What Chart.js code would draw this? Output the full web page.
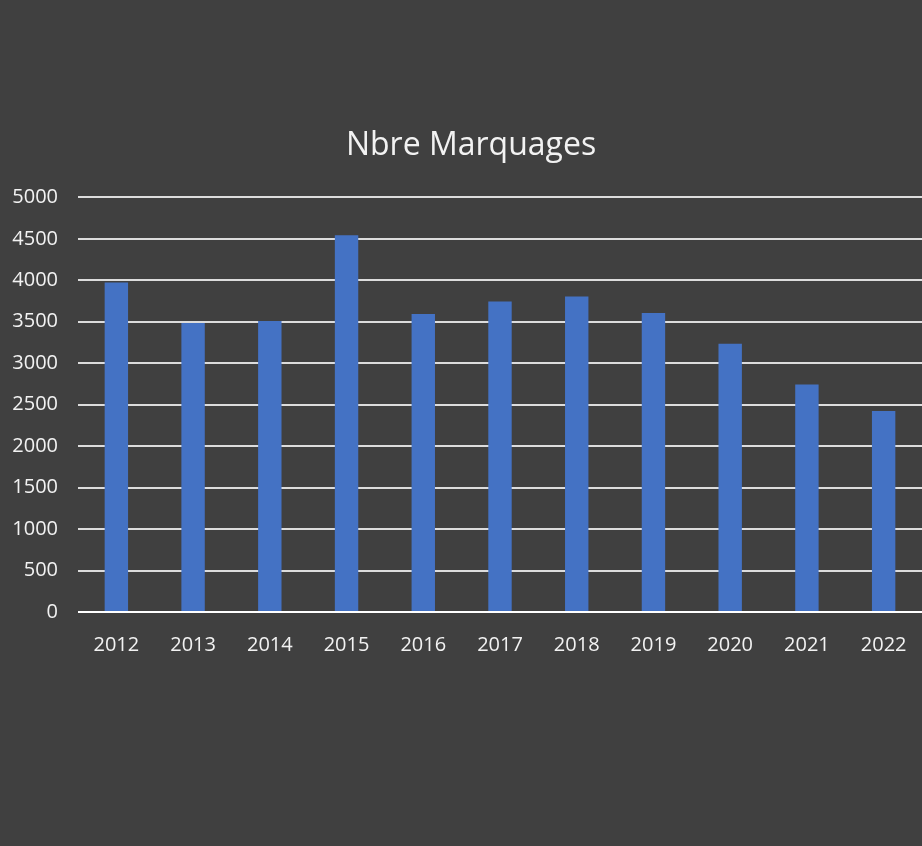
<!DOCTYPE html>
<html lang="fr">
<head>
<meta charset="utf-8">
<title>Nbre Marquages</title>
<script src="https://cdn.jsdelivr.net/npm/chart.js@4.4.1/dist/chart.umd.min.js"></script>
<style>
  html, body { margin: 0; padding: 0; background: #404040; }
  canvas { display: block; }
</style>
</head>
<body>
<canvas id="chart" width="922" height="846"></canvas>
<script>
// Nombre de marquages par année
const years = ['2012', '2013', '2014', '2015', '2016', '2017', '2018', '2019', '2020', '2021', '2022'];
const marquages = [3975, 3485, 3510, 4545, 3595, 3745, 3805, 3605, 3235, 2745, 2425];
const yTicks = [0, 500, 1000, 1500, 2000, 2500, 3000, 3500, 4000, 4500, 5000];

const textColor = '#f2f2f2';
const fontFamily = '"Open Sans", "Noto Sans", sans-serif';

// The title sits slightly right of the canvas centre
const titleShift = {
  id: 'titleShift',
  afterLayout(chart) {
    if (chart.titleBlock) chart.titleBlock.left += 20;
  }
};

new Chart(document.getElementById('chart'), {
  type: 'bar',
  data: {
    labels: years,
    datasets: [{
      label: 'Nbre Marquages',
      data: marquages,
      backgroundColor: '#4472C4',
      borderWidth: 0,
      barPercentage: 0.305,
      categoryPercentage: 1
    }]
  },
  options: {
    responsive: false,
    animation: false,
    layout: { padding: { left: 0, right: 0, top: 127, bottom: 184 } },
    plugins: {
      legend: { display: false },
      tooltip: { enabled: false },
      title: {
        display: true,
        text: 'Nbre Marquages',
        color: textColor,
        font: { family: fontFamily, size: 32, weight: 'normal', lineHeight: 1.2 },
        padding: { top: 0, bottom: 32 }
      }
    },
    scales: {
      x: {
        grid: {
          display: true,
          drawOnChartArea: false,
          drawTicks: true,
          tickLength: 7,
          color: 'rgba(0,0,0,0)'
        },
        border: { display: false },
        ticks: {
          color: textColor,
          font: { family: fontFamily, size: 20 },
          padding: 14,
          maxRotation: 0
        },
        afterFit(scale) { scale.height = 50; }
      },
      y: {
        min: 0,
        max: 5000,
        afterBuildTicks(scale) { scale.ticks = yTicks.map(v => ({ value: v })); },
        grid: {
          color: ctx => ctx.tick && ctx.tick.value === 0 ? '#ffffff' : '#dcdcdc',
          lineWidth: 2,
          drawTicks: false
        },
        border: { display: false },
        ticks: {
          color: textColor,
          font: { family: fontFamily, size: 20 },
          padding: 20,
          callback: value => String(value)
        },
        afterFit(scale) { scale.width = 78; }
      }
    }
  },
  plugins: [titleShift]
});
</script>
</body>
</html>
